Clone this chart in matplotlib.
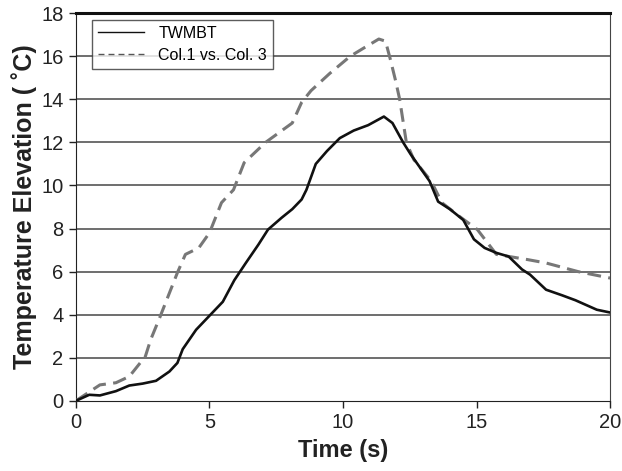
import numpy as np
import matplotlib
matplotlib.use("Agg")
import matplotlib.pyplot as plt
from matplotlib.lines import Line2D

plt.rcParams["font.family"] = ["Liberation Sans", "DejaVu Sans"]

# TWMBT curve
t_twmbt = [0, 0.5, 0.9, 1.5, 2.0, 2.5, 3.0, 3.5, 3.8, 4.0, 4.5, 5.0, 5.5, 5.93,
           6.36, 6.83, 7.19, 7.7, 8.1, 8.45, 8.63, 8.98, 9.4, 9.88, 10.4, 10.94,
           11.53, 11.85, 12.25, 12.53, 12.9, 13.24, 13.56, 14.0, 14.5, 14.9, 15.3,
           15.74, 16.2, 16.7, 17.0, 17.6, 18.2, 18.7, 19.5, 20]
v_twmbt = [0, 0.28, 0.25, 0.45, 0.71, 0.8, 0.93, 1.36, 1.76, 2.4, 3.3, 3.95, 4.6,
           5.6, 6.4, 7.25, 7.95, 8.5, 8.9, 9.35, 9.8, 11.0, 11.6, 12.2, 12.55, 12.8,
           13.2, 12.9, 12.0, 11.45, 10.8, 10.2, 9.25, 8.9, 8.4, 7.5, 7.1, 6.87, 6.7,
           6.1, 5.86, 5.16, 4.9, 4.67, 4.23, 4.1]

# Col.1 vs. Col. 3 curve
t_col = [0, 0.9, 1.5, 2.0, 2.6, 2.8, 3.15, 3.8, 4.1, 4.6, 5.0, 5.45, 5.9, 6.3,
         7.1, 7.6, 8.1, 8.45, 8.8, 9.5, 10.27, 10.8, 11.34, 11.59, 11.77, 11.97,
         12.12, 12.37, 12.65, 13.3, 13.7, 14.35, 15.03, 15.74, 16.9, 17.6, 18.8, 20]
v_col = [0, 0.74, 0.84, 1.13, 2.06, 2.84, 3.9, 5.95, 6.8, 7.1, 7.8, 9.2, 9.8,
         11.06, 12.0, 12.45, 12.9, 13.86, 14.4, 15.2, 16.0, 16.4, 16.8, 16.7,
         15.86, 14.85, 14.0, 12.0, 11.2, 10.2, 9.2, 8.57, 7.95, 6.8, 6.56, 6.4,
         6.0, 5.7]

x_ticks = [0, 5, 10, 15, 20]
y_ticks = [0, 2, 4, 6, 8, 10, 12, 14, 16, 18]

fig = plt.figure(figsize=(6.22, 4.71), dpi=100)
ax = fig.add_axes([0.122, 0.149, 0.859, 0.823])

for yv in y_ticks[1:-1]:
    ax.axhline(yv, color="#555555", lw=1.2, zorder=1)

ax.plot(t_col, v_col, color="#777777", lw=2.2, dashes=(4.5, 2.4),
        solid_joinstyle="round", zorder=3)
ax.plot(t_twmbt, v_twmbt, color="#111111", lw=1.9,
        solid_joinstyle="round", zorder=4)

ax.set_xlim(0, 20)
ax.set_ylim(0, 18)
ax.set_xticks(x_ticks)
ax.set_yticks(y_ticks)
ax.tick_params(direction="out", length=5, width=1, labelsize=14.5, pad=4,
               color="#222222", labelcolor="#222222")

ax.spines["top"].set_linewidth(2.2)
ax.spines["top"].set_color("#111111")
ax.spines["right"].set_color("#444444")
ax.spines["left"].set_color("#222222")
ax.spines["bottom"].set_color("#222222")

ax.set_xlabel("Time (s)", fontsize=17, fontweight="bold", color="#222222", labelpad=5)
ax.set_ylabel("Temperature Elevation ( \u02daC)", fontsize=18, fontweight="bold",
              color="#222222", labelpad=3)

handles = [Line2D([], [], color="#111111", lw=1.0),
           Line2D([], [], color="#555555", lw=1.0, dashes=(4.3, 2.9))]
leg = ax.legend(handles, ["TWMBT", "Col.1 vs. Col. 3"], loc="upper left",
                bbox_to_anchor=(0.03, 0.982), fontsize=11.5, frameon=True,
                fancybox=False, edgecolor="#333333", handlelength=2.9,
                borderpad=0.35, labelspacing=0.45, handletextpad=0.9,
                borderaxespad=0.0)
leg.get_frame().set_linewidth(1.0)
leg.set_zorder(5)

fig.savefig("out.png", dpi=100)
